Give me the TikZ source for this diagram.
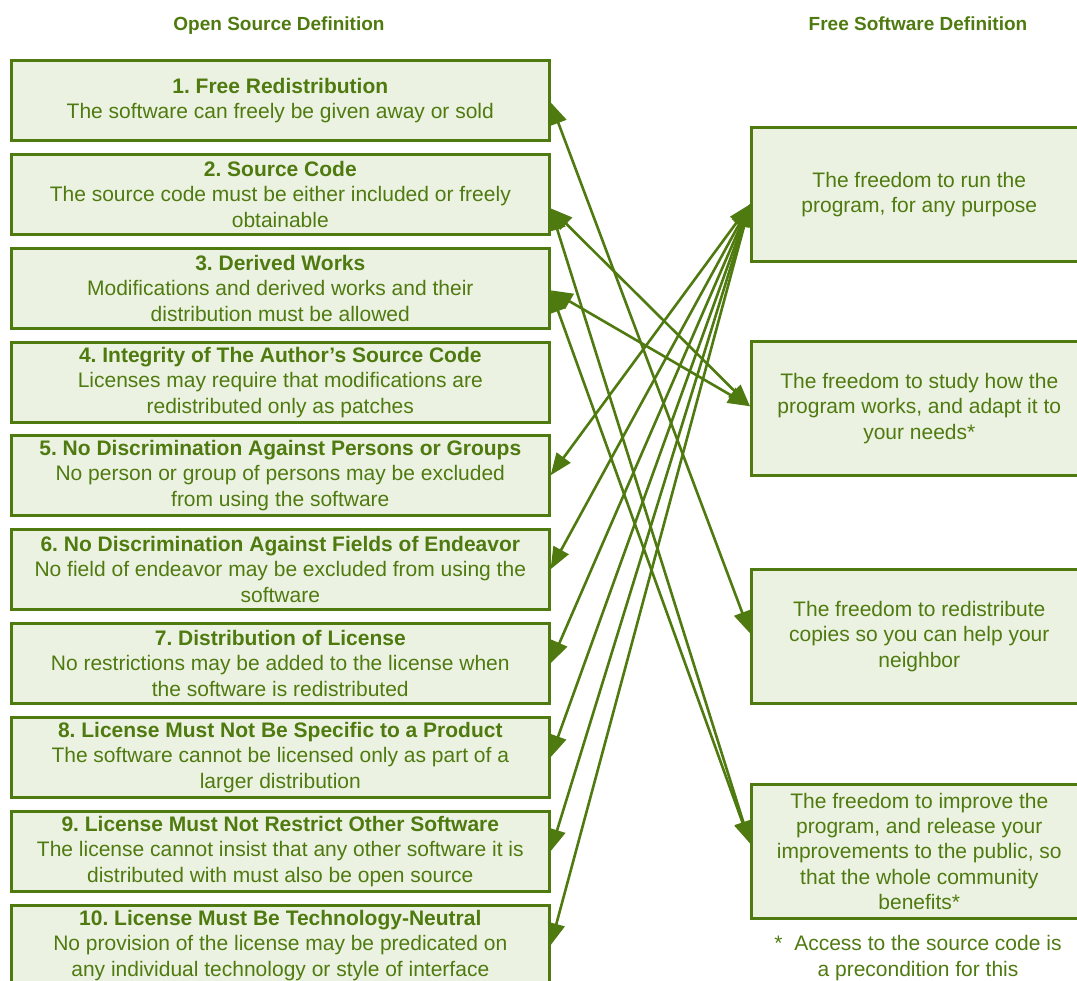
\documentclass[tikz,border=0pt]{standalone}
\usepackage{fontspec}
\setmainfont{Liberation Sans}
\usetikzlibrary{arrows.meta,calc}
\definecolor{gr}{RGB}{79,122,16}
\definecolor{lf}{RGB}{236,242,225}
\frenchspacing
\begin{document}
\begin{tikzpicture}[x=1pt,y=-1pt,
  box/.style={draw=gr, line width=2.6pt, fill=lf, text=gr, align=center, minimum width=538pt, minimum height=80pt, inner sep=0pt, font=\fontsize{21}{25.3}\selectfont\frenchspacing, anchor=north west},
  rbox/.style={box, minimum width=336pt, minimum height=134pt},
  hdr/.style={text=gr, anchor=base, font=\fontsize{19}{22}\selectfont\bfseries},
  note/.style={text=gr, align=center, font=\fontsize{21}{25.3}\selectfont},
  link/.style={draw=gr, line width=2.6pt, {Triangle[length=22pt,width=17pt]}-{Triangle[length=22pt,width=17pt]}}
]
\useasboundingbox (0,0) rectangle (1077,981);
\clip (0,0) rectangle (1077,981);

\node[hdr] (h1) at (279,31) {Open Source Definition};
\node[hdr] (h2) at (918,31) {Free Software Definition};

\node[box] (b1) at (10,59) {\textbf{1. Free Redistribution}\\The software can freely be given away or sold};
\node[box] (b2) at (10,153) {\textbf{2. Source Code}\\The source code must be either included or freely\\obtainable};
\node[box] (b3) at (10,247) {\textbf{3. Derived Works}\\Modifications and derived works and their\\distribution must be allowed};
\node[box] (b4) at (10,341) {\textbf{4. Integrity of The Author's Source Code}\\Licenses may require that modifications are\\redistributed only as patches};
\node[box] (b5) at (10,434) {\textbf{5. No Discrimination Against Persons or Groups}\\No person or group of persons may be excluded\\from using the software};
\node[box] (b6) at (10,528) {\textbf{6. No Discrimination Against Fields of Endeavor}\\No field of endeavor may be excluded from using the\\software};
\node[box] (b7) at (10,622) {\textbf{7. Distribution of License}\\No restrictions may be added to the license when\\the software is redistributed};
\node[box] (b8) at (10,716) {\textbf{8. License Must Not Be Specific to a Product}\\The software cannot be licensed only as part of a\\larger distribution};
\node[box] (b9) at (10,810) {\textbf{9. License Must Not Restrict Other Software}\\The license cannot insist that any other software it is\\distributed with must also be open source};
\node[box] (b10) at (10,904) {\textbf{10. License Must Be Technology-Neutral}\\No provision of the license may be predicated on\\any individual technology or style of interface};

\node[rbox] (fA) at (750,126) {The freedom to run the\\program, for any purpose};
\node[rbox] (fB) at (750,340) {The freedom to study how the\\program works, and adapt it to\\your needs*};
\node[rbox] (fC) at (750,568) {The freedom to redistribute\\copies so you can help your\\neighbor};
\node[rbox] (fD) at (750,783) {The freedom to improve the\\program, and release your\\improvements to the public, so\\that the whole community\\benefits*};

\node[note] (fn) at (918,958) {*\ \ Access to the source code is\\a precondition for this};

\draw[link] ($(b1.east)+(0,2)$) -- ($(fC.west)+(0,-3)$);
\draw[link] ($(b2.east)+(0,14)$) -- ($(fB.west)+(0,-2)$);
\draw[link] ($(b2.east)+(0,14)$) -- ($(fD.west)+(0,-8)$);
\draw[link] ($(b3.east)+(0,2)$) -- ($(fB.west)+(0,-2)$);
\draw[link] ($(b3.east)+(0,2)$) -- ($(fD.west)+(0,-8)$);
\foreach \b in {b5,b6,b7,b8,b9,b10}{
  \draw[link] (\b.east) -- ($(fA.west)+(0,10)$);
}
\end{tikzpicture}
\end{document}
